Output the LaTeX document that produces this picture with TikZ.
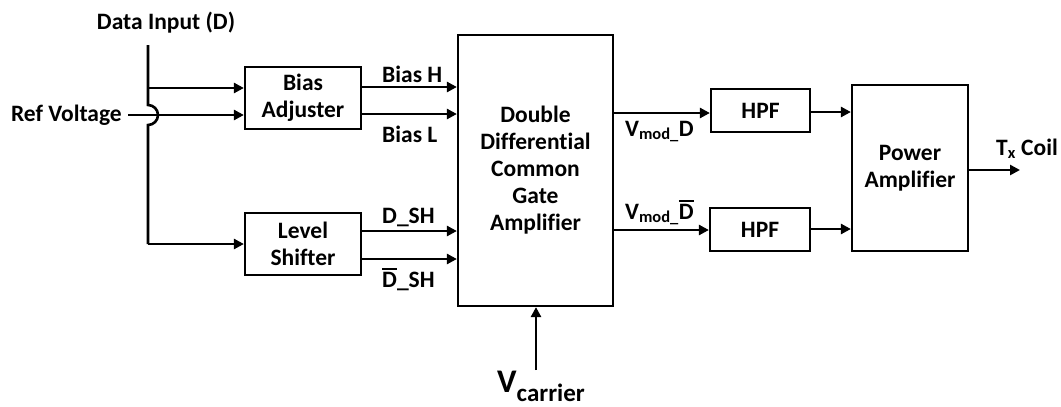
\documentclass[tikz,border=0pt]{standalone}
\usepackage{fontspec}
\setmainfont{Carlito}[Ligatures=CommonOff]
\usetikzlibrary{arrows.meta}
\newcommand{\barD}{\vbox{\hrule height 2pt\kern 2pt\hbox{D}}}
\begin{document}
\begin{tikzpicture}[x=1pt,y=1pt,
  every node/.style={font=\bfseries\fontsize{23.5}{27}\selectfont, inner sep=0pt},
  blk/.style={draw, line width=2.2pt, fill=white, align=center},
  arr/.style={line width=2.6pt, -{Triangle[length=10pt,width=10pt]}},
  wire/.style={line width=2.6pt},
  lbl/.style={anchor=base west}]
\useasboundingbox (0,0) rectangle (1061,-407);
% blocks
\node[blk, minimum width=116pt, minimum height=62pt] (bias) at (303,-98) {Bias\\Adjuster};
\node[blk, minimum width=116pt, minimum height=62pt] (level) at (303,-244) {Level\\Shifter};
\node[blk, minimum width=155pt, minimum height=271pt] (dd) at (535.5,-170.5) {Double\\Differential\\Common\\Gate\\Amplifier};
\node[blk, minimum width=99pt, minimum height=43pt] (hpf1) at (760.5,-110.5) {HPF};
\node[blk, minimum width=100pt, minimum height=43pt] (hpf2) at (760,-229.5) {HPF};
\node[blk, minimum width=116pt, minimum height=166pt] (pa) at (910,-168) {Power\\Amplifier};
% labels
\node[anchor=base] (din) at (166,-29) {Data Input (D)};
\node[anchor=east] (ref) at (122,-115) {Ref Voltage};
\node[lbl] (bh) at (382,-82) {Bias H};
\node[lbl] (bl) at (382,-142) {Bias L};
\node[lbl] (dsh) at (382,-223) {D\_SH};
\node[lbl] (dbsh) at (382,-287) {\barD\_SH};
\node[lbl] (vmd) at (625,-136) {V\textsubscript{mod\_}D};
\node[lbl] (vmdb) at (625,-219) {V\textsubscript{mod\_}\barD};
\node[lbl] (tx) at (996,-155) {T\textsubscript{x} Coil};
\node[lbl] (vc) at (497,-392) {{\fontsize{33}{40}\selectfont V}\raisebox{-9pt}{\fontsize{25}{30}\selectfont carrier}};
% coordinates
\coordinate (dtop) at (148,-45);
\coordinate (hopa) at (148,-105);
\coordinate (j1) at (148,-88);
\coordinate (jb) at (148,-244);
\coordinate (vcs) at (536,-370);
\coordinate (txe) at (1020,-170);
% data input wiring with hop
\draw[wire] (dtop) -- (hopa) arc[start angle=90, end angle=-90, radius=10] -- (jb);
\draw[arr] (jb) -- (level.west);
\draw[arr] (j1) -- (bias.west |- j1);
\draw[arr] ([xshift=6pt]ref.east) -- (bias.west |- ref.east);
% bias / level outputs
\draw[arr] (bias.east |- 0,-87) -- (dd.west |- 0,-87);
\draw[arr] (bias.east |- 0,-114) -- (dd.west |- 0,-114);
\draw[arr] (level.east |- 0,-231) -- (dd.west |- 0,-231);
\draw[arr] (level.east |- 0,-259) -- (dd.west |- 0,-259);
% dd outputs
\draw[arr] (dd.east |- 0,-113) -- (hpf1.west |- 0,-113);
\draw[arr] (dd.east |- 0,-230) -- (hpf2.west |- 0,-230);
% hpf to pa
\draw[arr] (hpf1.east |- 0,-112) -- (pa.west |- 0,-112);
\draw[arr] (hpf2.east |- 0,-229) -- (pa.west |- 0,-229);
% output
\draw[arr] (pa.east |- txe) -- (txe);
% carrier
\draw[arr] (vcs) -- (dd.south -| vcs);
\end{tikzpicture}
\end{document}
